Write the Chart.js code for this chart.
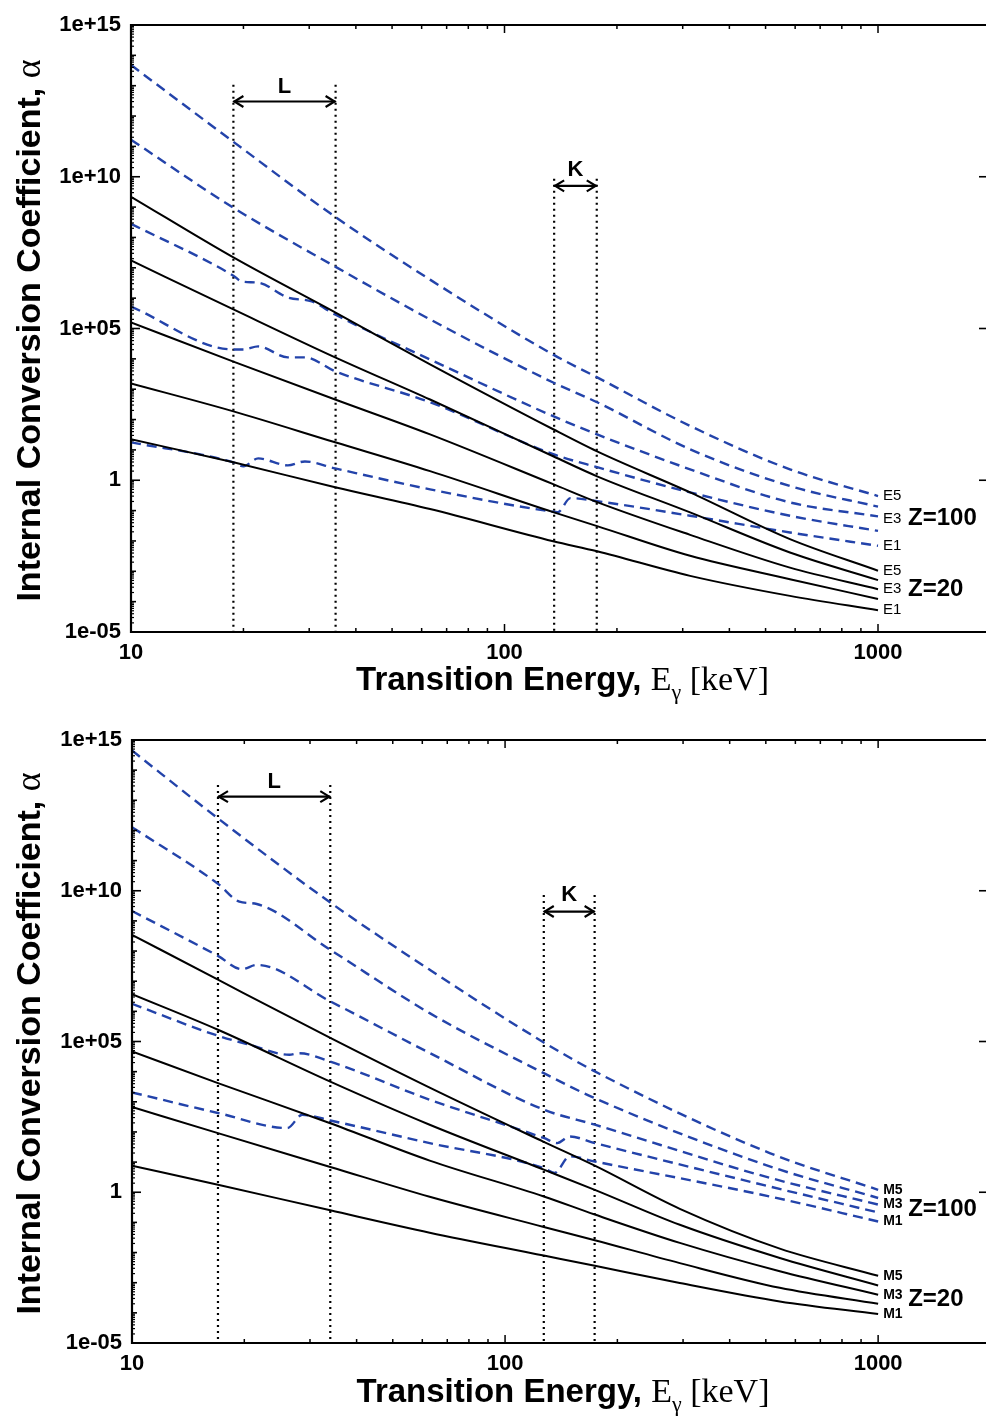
<!DOCTYPE html>
<html><head><meta charset="utf-8">
<script src="https://cdn.jsdelivr.net/npm/chart.js@4.4.1/dist/chart.umd.min.js"></script>
<style>
html,body{margin:0;padding:0;background:#fff;}
.panel{position:absolute;left:0;width:986px;height:708px;}
canvas{display:block;}
</style></head><body>
<div class="panel" style="top:0"><canvas id="c1" width="986" height="708"></canvas></div>
<div class="panel" style="top:708px"><canvas id="c2" width="986" height="708"></canvas></div>
<script>
// ================= DATA (energies in keV, values as log10 of alpha) =================
// ---- Top panel: electric multipoles E1..E5 ----
const topEnergy = [10, 18.8, 35.2, 63.2, 135, 177, 314, 581, 1000];
const topZ20_E1 = [1.35, 0.59, -0.23, -0.95, -2.01, -2.34, -3.15, -3.81, -4.28];
const topZ20_E2 = [3.19, 2.27, 1.25, 0.30, -1.05, -1.51, -2.49, -3.26, -3.91];
const topZ20_E3 = [5.20, 3.91, 2.66, 1.51, -0.13, -0.72, -1.80, -2.88, -3.59];
const topZ20_E4 = [7.24, 5.63, 4.05, 2.66, 0.79, 0.13, -1.06, -2.38, -3.29];
const topZ20_E5 = [9.34, 7.34, 5.53, 3.82, 1.68, 0.95, -0.40, -1.94, -2.98];
const topZ100_E5 = [13.68, 11.15, 8.68, 6.61, 4.14, 3.39, 1.79, 0.36, -0.52];
const topZ100_E4 = [11.22, 8.98, 7.04, 5.30, 3.22, 2.57, 1.02, -0.19, -0.87];
const topZ100_E3_energy = [10, 18.8, 19.8, 21.9, 26.3, 30.5, 35.2, 63.2, 135, 177, 314, 581, 1000];
const topZ100_E3 = [8.45, 6.74, 6.55, 6.51, 6.02, 5.89, 5.46, 3.98, 2.11, 1.51, 0.36, -0.73, -1.19];
const topZ100_E2_energy = [10, 18.8, 20, 21.9, 26.3, 29.2, 35.2, 63.2, 135, 177, 314, 581, 1000];
const topZ100_E2 = [5.72, 4.31, 4.31, 4.41, 4.05, 4.05, 3.59, 2.57, 0.86, 0.43, -0.40, -1.17, -1.67];
const topZ100_E1_energy = [10, 18.8, 20, 21.9, 26.3, 29.2, 35.2, 63.2, 132, 139, 150, 177, 314, 581, 1000];
const topZ100_E1 = [1.25, 0.59, 0.46, 0.72, 0.49, 0.62, 0.39, -0.30, -1.02, -1.05, -0.59, -0.69, -1.17, -1.72, -2.16];
const topLEdges = [18.8, 35.3];
const topKEdges = [135.8, 176.6];

// ---- Bottom panel: magnetic multipoles M1..M5 ----
const botEnergy = [10, 17, 34, 62.8, 127, 174, 294, 545, 1000];
const botZ20_M1 = [0.88, 0.25, -0.60, -1.34, -2.10, -2.44, -3.01, -3.62, -4.04];
const botZ20_M2 = [2.83, 1.96, 0.84, -0.15, -1.15, -1.59, -2.35, -3.17, -3.70];
const botZ20_M3 = [4.67, 3.62, 2.29, 1.05, -0.14, -0.74, -1.68, -2.62, -3.40];
const botZ20_M4 = [6.57, 5.39, 3.67, 2.24, 0.75, 0.08, -1.08, -2.18, -3.09];
const botZ20_M5 = [8.54, 7.05, 5.12, 3.47, 1.67, 0.88, -0.55, -1.87, -2.77];
const botZ100_M5_energy = [10, 17, 34, 62.8, 127, 174, 512, 1000];
const botZ100_M5 = [14.65, 12.40, 9.61, 7.38, 4.97, 4.01, 1.30, 0.08];
const botZ100_M4_energy = [10, 17, 19.4, 21.6, 34, 62.8, 127, 174, 512, 1000];
const botZ100_M4 = [12.11, 10.23, 9.64, 9.56, 8.04, 5.94, 3.95, 3.12, 0.86, -0.19];
const botZ100_M3_energy = [10, 17, 19.7, 21.6, 34, 62.8, 127, 174, 512, 1000];
const botZ100_M3 = [9.33, 7.84, 7.40, 7.54, 6.33, 4.62, 2.74, 2.24, 0.48, -0.41];
const botZ100_M2_energy = [10, 17, 20.7, 26.4, 28.1, 34, 62.8, 127, 138, 149, 174, 512, 1000];
const botZ100_M2 = [6.25, 5.19, 4.89, 4.56, 4.61, 4.33, 3.07, 1.80, 1.63, 1.85, 1.63, 0.19, -0.67];
const botZ100_M1_energy = [10, 17, 26.1, 28.6, 34, 62.8, 127, 135.7, 149, 174, 512, 1000];
const botZ100_M1 = [3.31, 2.63, 2.13, 2.57, 2.38, 1.63, 0.80, 0.64, 1.19, 1.02, -0.14, -0.97];
const botLEdges = [17.0, 34.0];
const botKEdges = [127, 173.8];

// ---- Tick labels ----
const yTickValues = [1e-5, 1, 1e5, 1e10, 1e15];
const yTickLabels = ['1e-05', '1', '1e+05', '1e+10', '1e+15'];
const xTickValues = [10, 100, 1000];
const xTickLabels = ['10', '100', '1000'];

// ================= STYLE / HELPERS =================
const SANS = '"Liberation Sans", Arial, Helvetica, sans-serif';
const SERIF = '"Liberation Serif", "Times New Roman", serif';
const BLUE = '#2343aa';
const X_MAX = 1946;

function pts(E, L) { return E.map((e, i) => ({ x: e, y: Math.pow(10, L[i]) })); }
function ds(label, E, L, blue) {
  return {
    label, data: pts(E, L),
    borderColor: blue ? BLUE : '#000', borderWidth: blue ? 2.4 : 2,
    borderDash: blue ? [10, 6] : [], pointRadius: 0, fill: false,
    cubicInterpolationMode: 'monotone'
  };
}
function seg(ctx, x1, y1, x2, y2) { ctx.beginPath(); ctx.moveTo(x1, y1); ctx.lineTo(x2, y2); ctx.stroke(); }

const decor = {
  id: 'decor',
  beforeDatasetsDraw(chart, args, o) {
    const { ctx, chartArea: a, scales: { x, y } } = chart;
    ctx.save();
    ctx.strokeStyle = '#000'; ctx.fillStyle = '#000';
    for (const g of o.edges) {
      ctx.lineWidth = 2.2; ctx.setLineDash([2, 4]);
      for (const e of g.energies) {
        const px = x.getPixelForValue(e);
        seg(ctx, px, y.getPixelForValue(Math.pow(10, g.lineTop)), px, a.bottom);
      }
      ctx.setLineDash([]);
      const x1 = x.getPixelForValue(g.energies[0]), x2 = x.getPixelForValue(g.energies[1]);
      const py = y.getPixelForValue(Math.pow(10, g.arrowAt));
      ctx.lineWidth = 2.2;
      seg(ctx, x1, py, x2, py);
      ctx.beginPath();
      ctx.moveTo(x1 + 10, py - 5.5); ctx.lineTo(x1 + 1, py); ctx.lineTo(x1 + 10, py + 5.5);
      ctx.moveTo(x2 - 10, py - 5.5); ctx.lineTo(x2 - 1, py); ctx.lineTo(x2 - 10, py + 5.5);
      ctx.stroke();
      ctx.font = 'bold 22px ' + SANS; ctx.textAlign = 'center'; ctx.textBaseline = 'middle';
      ctx.fillText(g.name, (x1 + x2) / 2, y.getPixelForValue(Math.pow(10, g.labelAt)));
    }
    ctx.restore();
  },
  afterDraw(chart, args, o) {
    const { ctx, chartArea: a, scales: { x, y } } = chart;
    ctx.save();
    ctx.strokeStyle = '#000'; ctx.fillStyle = '#000';
    // frame
    ctx.lineWidth = 2.2;
    seg(ctx, a.left, a.top, a.right, a.top);
    seg(ctx, a.left, a.bottom, a.right, a.bottom);
    seg(ctx, a.left, a.top - 1, a.left, a.bottom + 1);
    // x ticks (inward, bottom and top)
    ctx.lineWidth = 1.5;
    for (let d = 1; d <= 3; d++) {
      for (let m = 1; m <= 9; m++) {
        const v = m * Math.pow(10, d);
        if (v > X_MAX || (d === 1 && m === 1)) continue;
        const px = x.getPixelForValue(v);
        const len = m === 1 ? 8 : 4;
        seg(ctx, px, a.bottom, px, a.bottom - len);
        seg(ctx, px, a.top, px, a.top + len);
      }
    }
    // y ticks left (major/minor), right (major)
    for (let k = -5; k <= 15; k++) {
      for (let m = 1; m <= 9; m++) {
        const v = m * Math.pow(10, k);
        if (v > 1.0001e15) break;
        const py = y.getPixelForValue(v);
        const len = m === 1 ? (k % 5 === 0 ? 9 : 5) : 3;
        ctx.lineWidth = m === 1 ? 1.6 : 1.2;
        seg(ctx, a.left, py, a.left + len, py);
      }
    }
    ctx.lineWidth = 1.6;
    for (const v of yTickValues) {
      const py = y.getPixelForValue(v);
      seg(ctx, a.right, py, a.right - 7, py);
    }
    // end-of-curve labels
    ctx.textAlign = 'left'; ctx.textBaseline = 'middle';
    const x1000 = x.getPixelForValue(1000);
    for (const lb of o.endLabels) {
      ctx.font = lb.font;
      ctx.fillText(lb.text, x1000 + lb.dx, y.getPixelForValue(Math.pow(10, lb.at)) + (lb.dy || 0));
    }
    // y title (rotated, mixed fonts)
    const cy = (a.top + a.bottom) / 2;
    ctx.save();
    ctx.translate(40, cy); ctx.rotate(-Math.PI / 2);
    ctx.textBaseline = 'alphabetic'; ctx.textAlign = 'left';
    const p1 = 'Internal Conversion Coefficient, ';
    ctx.font = 'bold 34px ' + SANS; const w1 = ctx.measureText(p1).width;
    ctx.font = '36px ' + SERIF; const w2 = ctx.measureText('\u03b1').width;
    let sx = -(w1 + w2) / 2 - 2;
    ctx.font = 'bold 34px ' + SANS; ctx.fillText(p1, sx, 0);
    ctx.font = '36px ' + SERIF; ctx.fillText('\u03b1', sx + w1, 0);
    ctx.restore();
    // x title (mixed fonts)
    const parts = [
      { t: 'Transition Energy, ', f: 'bold 33px ' + SANS, dy: 0 },
      { t: 'E', f: '34px ' + SERIF, dy: 0 },
      { t: '\u03b3', f: '22px ' + SERIF, dy: 9 },
      { t: ' [keV]', f: '34px ' + SERIF, dy: 0 }
    ];
    let total = 0;
    for (const p of parts) { ctx.font = p.f; p.w = ctx.measureText(p.t).width; total += p.w; }
    let tx = (a.left + a.right) / 2 + 4 - total / 2;
    const by = a.bottom + o.xTitleOffset;
    ctx.textBaseline = 'alphabetic';
    for (const p of parts) { ctx.font = p.f; ctx.fillText(p.t, tx, by + p.dy); tx += p.w; }
    ctx.restore();
  }
};

function makeChart(id, datasets, o) {
  return new Chart(document.getElementById(id), {
    type: 'line',
    data: { datasets },
    plugins: [decor],
    options: {
      responsive: false, animation: false, devicePixelRatio: 1,
      layout: { padding: { top: o.padTop, right: 0, left: 0, bottom: 0 } },
      plugins: { legend: { display: false }, tooltip: { enabled: false }, decor: o.decor },
      scales: {
        x: {
          type: 'logarithmic', min: 10, max: X_MAX,
          grid: { display: false, drawTicks: false }, border: { display: false },
          afterBuildTicks: s => { s.ticks = xTickValues.map(v => ({ value: v })); },
          afterFit: s => { s.height = o.xAxisH; },
          ticks: {
            autoSkip: false, maxRotation: 0, color: '#000', padding: 8,
            font: { family: SANS, size: 22, weight: 'bold' },
            callback: v => { const i = xTickValues.indexOf(v); return i >= 0 ? xTickLabels[i] : ''; }
          }
        },
        y: {
          type: 'logarithmic', min: 1e-5, max: 1e15,
          grid: { display: false, drawTicks: false }, border: { display: false },
          afterBuildTicks: s => { s.ticks = yTickValues.map(v => ({ value: v })); },
          afterFit: s => { s.width = o.yAxisW; },
          ticks: {
            autoSkip: false, color: '#000', padding: 10,
            font: { family: SANS, size: 22, weight: 'bold' },
            callback: v => { const i = yTickValues.indexOf(v); return i >= 0 ? yTickLabels[i] : ''; }
          }
        }
      }
    }
  });
}

const smallE = '15px ' + SANS, smallM = 'bold 14px ' + SANS, bigZ = 'bold 24px ' + SANS;

makeChart('c1', [
  ds('Z=20 E1', topEnergy, topZ20_E1, false),
  ds('Z=20 E2', topEnergy, topZ20_E2, false),
  ds('Z=20 E3', topEnergy, topZ20_E3, false),
  ds('Z=20 E4', topEnergy, topZ20_E4, false),
  ds('Z=20 E5', topEnergy, topZ20_E5, false),
  ds('Z=100 E1', topZ100_E1_energy, topZ100_E1, true),
  ds('Z=100 E2', topZ100_E2_energy, topZ100_E2, true),
  ds('Z=100 E3', topZ100_E3_energy, topZ100_E3, true),
  ds('Z=100 E4', topEnergy, topZ100_E4, true),
  ds('Z=100 E5', topEnergy, topZ100_E5, true)
], {
  padTop: 25, xAxisH: 76, yAxisW: 131,
  decor: {
    xTitleOffset: 58,
    edges: [
      { name: 'L', energies: topLEdges, lineTop: 13.03, arrowAt: 12.48, labelAt: 12.96 },
      { name: 'K', energies: topKEdges, lineTop: 9.93, arrowAt: 9.70, labelAt: 10.22 }
    ],
    endLabels: [
      { text: 'E5', at: topZ100_E5.at(-1), dx: 5, font: smallE },
      { text: 'E3', at: topZ100_E3.at(-1), dx: 5, dy: 2, font: smallE },
      { text: 'E1', at: topZ100_E1.at(-1), dx: 5, font: smallE },
      { text: 'Z=100', at: topZ100_E3.at(-1), dx: 30, dy: 2, font: bigZ },
      { text: 'E5', at: topZ20_E5.at(-1), dx: 5, font: smallE },
      { text: 'E3', at: topZ20_E3.at(-1), dx: 5, font: smallE },
      { text: 'E1', at: topZ20_E1.at(-1), dx: 5, font: smallE },
      { text: 'Z=20', at: topZ20_E3.at(-1), dx: 30, font: bigZ }
    ]
  }
});

makeChart('c2', [
  ds('Z=20 M1', botEnergy, botZ20_M1, false),
  ds('Z=20 M2', botEnergy, botZ20_M2, false),
  ds('Z=20 M3', botEnergy, botZ20_M3, false),
  ds('Z=20 M4', botEnergy, botZ20_M4, false),
  ds('Z=20 M5', botEnergy, botZ20_M5, false),
  ds('Z=100 M1', botZ100_M1_energy, botZ100_M1, true),
  ds('Z=100 M2', botZ100_M2_energy, botZ100_M2, true),
  ds('Z=100 M3', botZ100_M3_energy, botZ100_M3, true),
  ds('Z=100 M4', botZ100_M4_energy, botZ100_M4, true),
  ds('Z=100 M5', botZ100_M5_energy, botZ100_M5, true)
], {
  padTop: 32, xAxisH: 73, yAxisW: 132,
  decor: {
    xTitleOffset: 59,
    edges: [
      { name: 'L', energies: botLEdges, lineTop: 13.51, arrowAt: 13.12, labelAt: 13.60 },
      { name: 'K', energies: botKEdges, lineTop: 9.86, arrowAt: 9.31, labelAt: 9.86 }
    ],
    endLabels: [
      { text: 'M5', at: botZ100_M5.at(-1), dx: 5, font: smallM },
      { text: 'M3', at: botZ100_M3.at(-1), dx: 5, font: smallM },
      { text: 'M1', at: botZ100_M1.at(-1), dx: 5, font: smallM },
      { text: 'Z=100', at: botZ100_M3.at(-1), dx: 30, dy: 5, font: bigZ },
      { text: 'M5', at: botZ20_M5.at(-1), dx: 5, font: smallM },
      { text: 'M3', at: botZ20_M3.at(-1), dx: 5, font: smallM },
      { text: 'M1', at: botZ20_M1.at(-1), dx: 5, font: smallM },
      { text: 'Z=20', at: botZ20_M3.at(-1), dx: 30, dy: 5, font: bigZ }
    ]
  }
});
</script></body></html>
